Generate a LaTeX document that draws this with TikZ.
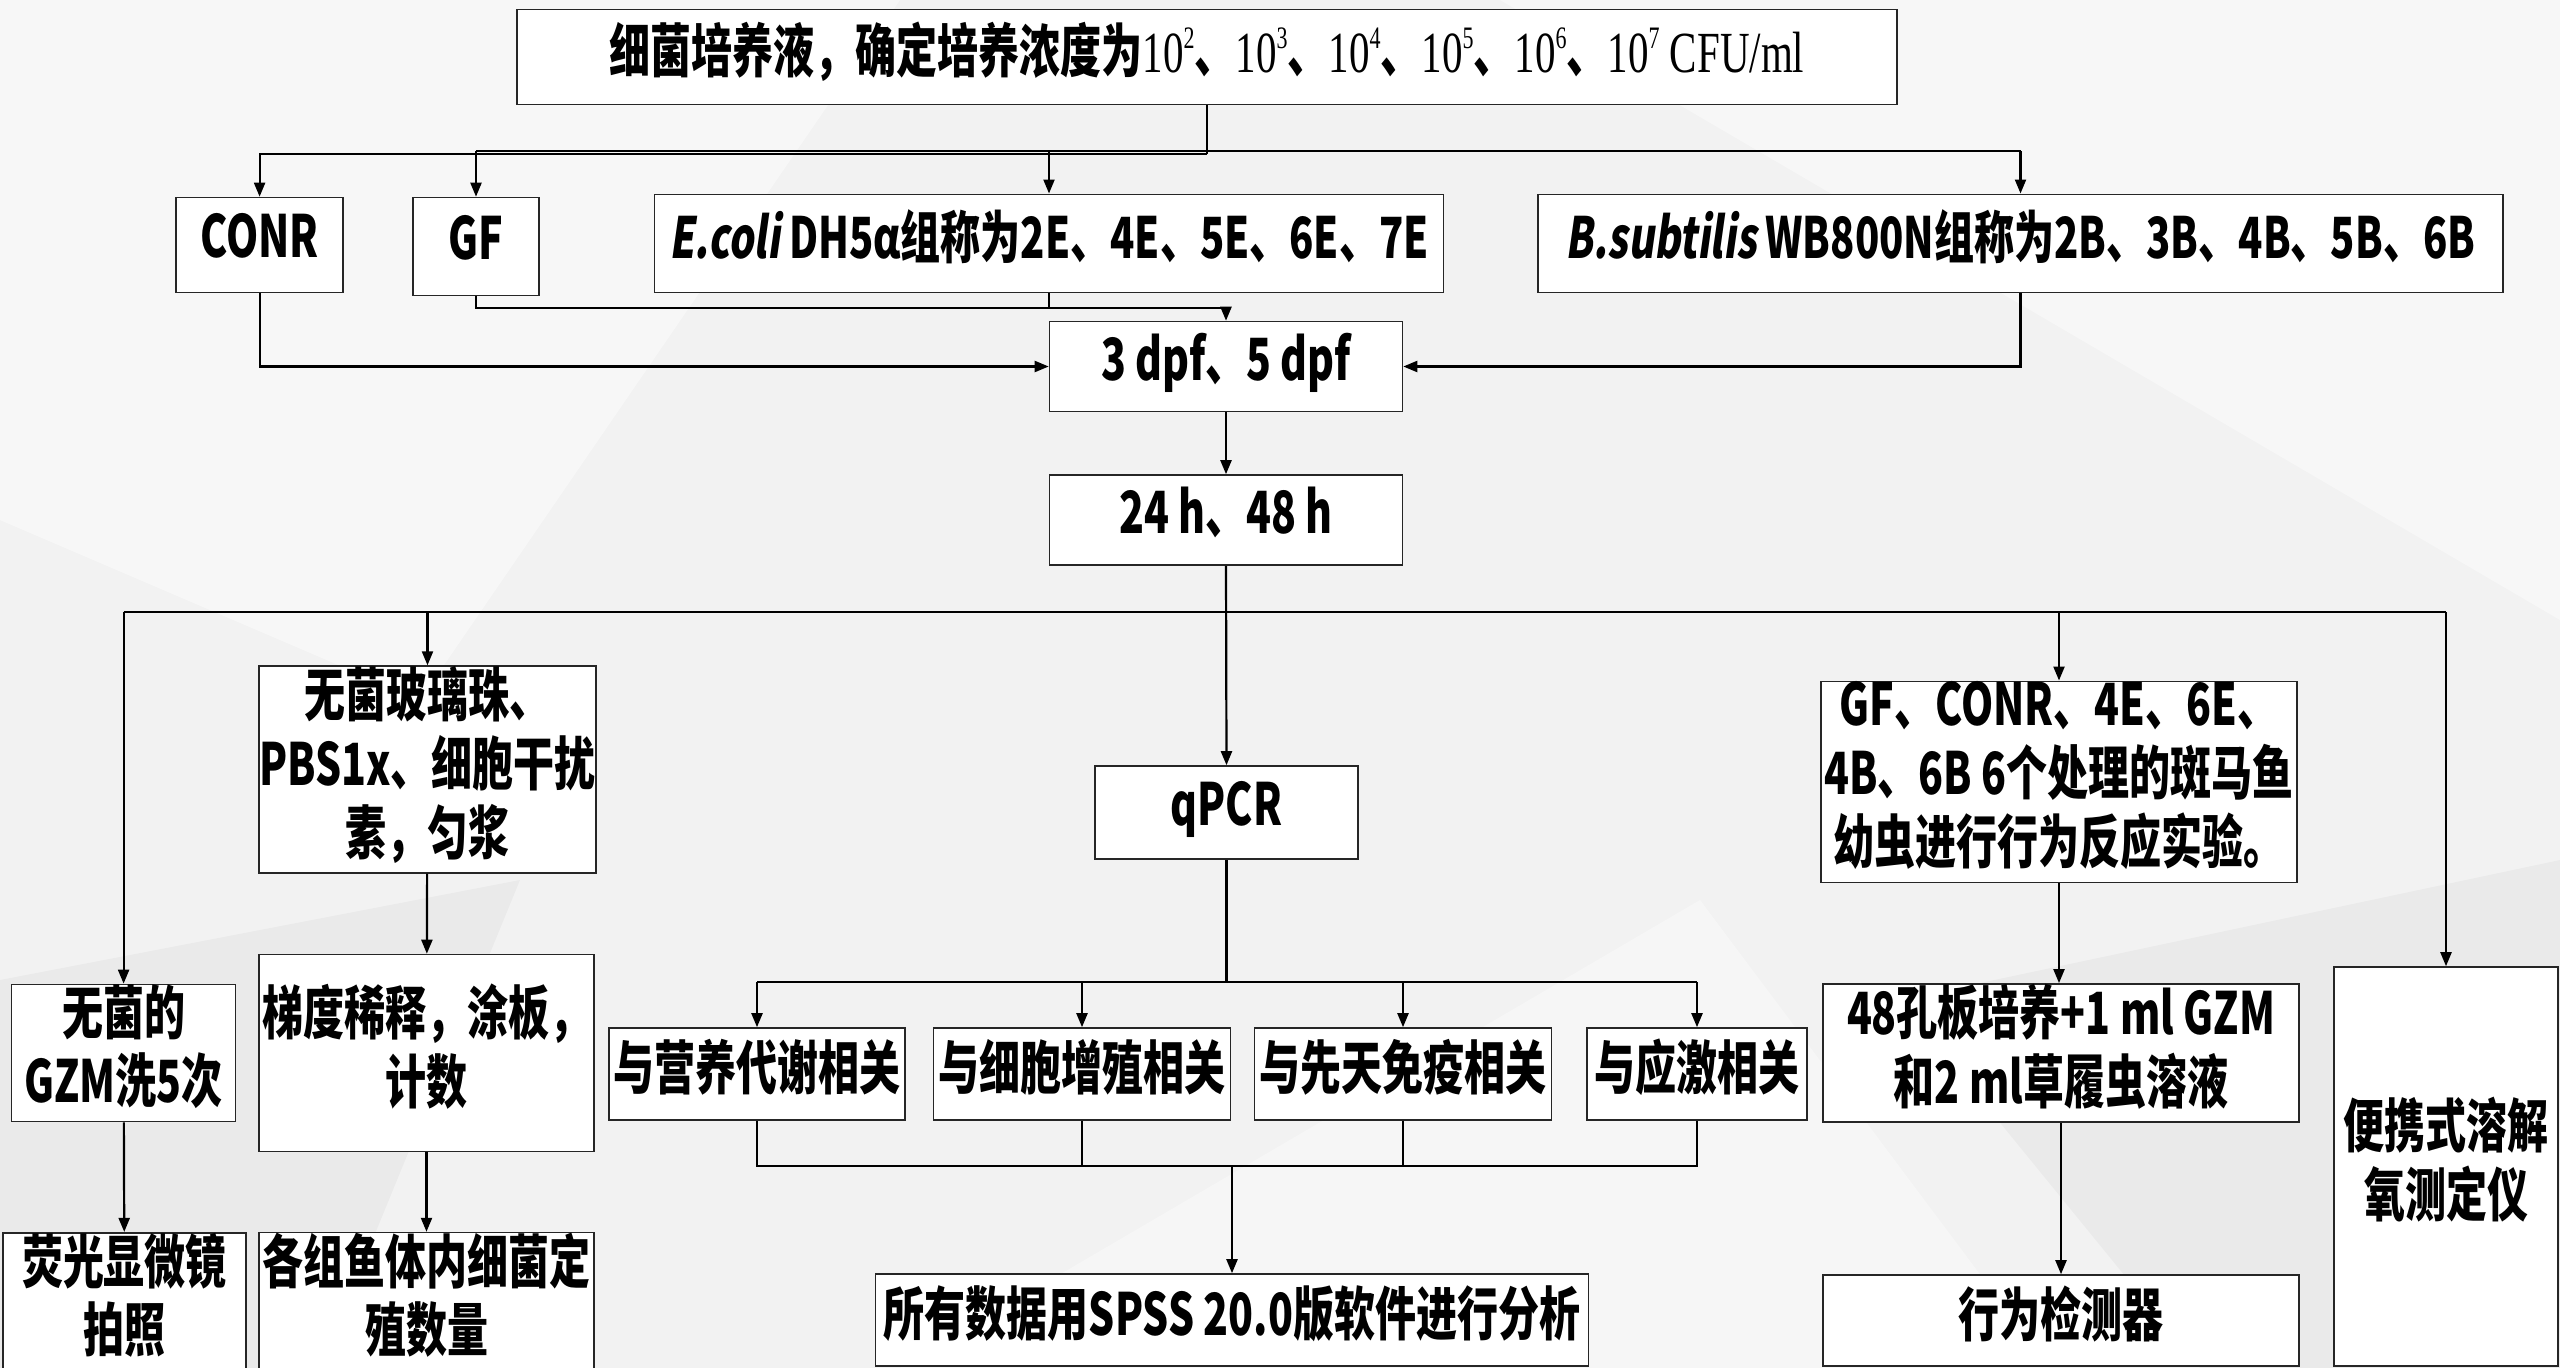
\documentclass[tikz,border=0pt]{standalone}
\usepackage{fontspec}
\usepackage{graphicx}
\usetikzlibrary{arrows.meta}
\setmainfont{Noto Sans CJK SC}
\newfontfamily\cjkit{Noto Sans CJK SC}[FakeSlant=0.2]
\newfontfamily\tms{Liberation Serif}
\newcommand{\boxtxt}[1]{\scalebox{1}[1.42]{\begin{tabular}{@{}c@{}}#1\end{tabular}}}
\newcommand{\tpow}[1]{{\tms\mdseries 10\raisebox{0.42em}{\fontsize{22}{22}\selectfont #1}}}
\definecolor{bgc}{RGB}{242,242,242}
\begin{document}
\begin{tikzpicture}[x=1pt,y=-1pt,
  bx/.style n args={2}{draw=black!85, line width=1.6pt, fill=white, inner sep=0pt,
    minimum width=#1pt, minimum height=#2pt,
    font=\bfseries\fontsize{41}{44}\selectfont},
  ln/.style={line width=2.2pt, black},
  arr/.style={ln, -{Triangle[length=14pt,width=11pt]}}]
\clip (0,0) rectangle (2560,1368);
\fill[bgc] (0,0) rectangle (2560,1368);
\fill[white, opacity=0.45] (0,0) -- (900,0) -- (420,700) -- (0,520) -- cycle;
\fill[white, opacity=0.4] (1500,0) -- (2560,0) -- (2560,620) -- cycle;
\fill[black, opacity=0.03] (0,980) -- (520,880) -- (320,1368) -- (0,1368) -- cycle;
\fill[black, opacity=0.03] (1900,1000) -- (2560,860) -- (2560,1368) -- (2200,1368) -- cycle;
\fill[white, opacity=0.35] (900,1368) -- (1700,900) -- (2050,1368) -- cycle;

% nodes
\node[bx={1380}{95}] (top) at (1207,57) {\boxtxt{细菌培养液，确定培养浓度为\tpow{2}、\tpow{3}、\tpow{4}、\tpow{5}、\tpow{6}、\tpow{7}{\tms\mdseries\ CFU/ml}}};
\node[bx={167}{95}] (conr) at (259.6,245) {\boxtxt{CONR}};
\node[bx={126}{98}] (gf) at (476,246.5) {\boxtxt{GF}};
\node[bx={789}{98}, font=\bfseries\fontsize{40}{44}\selectfont] (ecoli) at (1049,243.3) {\boxtxt{{\cjkit E.coli} DH5α组称为2E、4E、5E、6E、7E}};
\node[bx={965}{98}, font=\bfseries\fontsize{40}{44}\selectfont] (bsub) at (2020.5,243.3) {\boxtxt{{\cjkit B.subtilis} WB800N组称为2B、3B、4B、5B、6B}};
\node[bx={353}{90}] (d3) at (1226,366.5) {\boxtxt{3 dpf、5 dpf}};
\node[bx={353}{90}] (h24) at (1226,520) {\boxtxt{24 h、48 h}};
\node[bx={335}{197}] (beads) at (427.5,769.5) {\boxtxt{无菌玻璃珠、\\PBS1x、细胞干扰\\素，匀浆}};
\node[bx={335}{197}] (dil) at (426.5,1053) {\boxtxt{梯度稀释，涂板，\\计数}};
\node[bx={335}{129}] (count) at (426.5,1301.5) {\boxtxt{各组鱼体内细菌定\\殖数量}};
\node[bx={224}{136}] (gzm) at (123.6,1053) {\boxtxt{无菌的\\GZM洗5次}};
\node[bx={243}{129}] (fluo) at (124.5,1301.5) {\boxtxt{荧光显微镜\\拍照}};
\node[bx={263}{93}] (qpcr) at (1226.5,812.5) {\boxtxt{qPCR}};
\node[bx={296}{92}] (r1) at (757,1074) {\boxtxt{与营养代谢相关}};
\node[bx={297}{92}] (r2) at (1082,1074) {\boxtxt{与细胞增殖相关}};
\node[bx={297}{92}] (r3) at (1403,1074) {\boxtxt{与先天免疫相关}};
\node[bx={220}{92}] (r4) at (1697,1074) {\boxtxt{与应激相关}};
\node[bx={713}{92}] (spss) at (1232,1320) {\boxtxt{所有数据用SPSS 20.0版软件进行分析}};
\node[bx={476}{196}] (beh) at (2059,782) {\boxtxt{GF、CONR、4E、6E、\\4B、6B 6个处理的斑马鱼\\幼虫进行行为反应实验。}};
\node[bx={476}{135}] (plate) at (2061,1053) {\boxtxt{48孔板培养+1 ml GZM\\和2 ml草履虫溶液}};
\node[bx={476}{91}] (det) at (2061,1320.5) {\boxtxt{行为检测器}};
\node[bx={224}{399}] (oxy) at (2446,1166.5) {\boxtxt{便携式溶解\\氧测定仪}};

% top connectors
\draw[ln] (top.south) -- (top.south |- 0,154);
\draw[arr] (top.south |- 0,154) -| (conr.north);
\draw[ln] (gf.north |- 0,151) -- (bsub.north |- 0,151);
\draw[arr] (gf.north |- 0,151) -- (gf.north);
\draw[arr] (ecoli.north |- 0,151) -- (ecoli.north);
\draw[arr] (bsub.north |- 0,151) -- (bsub.north);

% into 3 dpf
\draw[arr] (gf.south) -- (gf.south |- 0,308) -- (d3.north |- 0,308) -- (d3.north);
\draw[ln] (ecoli.south) -- (ecoli.south |- 0,308);
\draw[arr] (conr.south) |- (d3.west);
\draw[arr] (bsub.south) |- (d3.east);
\draw[arr] (d3) -- (h24);

% 24 h bus
\draw[arr] (h24.south) -- (qpcr.north);
\draw[ln] (gzm.north |- 0,612) -- (oxy.north |- 0,612);
\draw[arr] (gzm.north |- 0,612) -- (gzm.north);
\draw[arr] (beads.north |- 0,612) -- (beads.north);
\draw[arr] (beh.north |- 0,612) -- (beh.north);
\draw[arr] (oxy.north |- 0,612) -- (oxy.north);

% left columns
\draw[arr] (gzm) -- (fluo);
\draw[arr] (beads) -- (dil);
\draw[arr] (dil) -- (count);

% qPCR branches
\draw[ln] (qpcr.south) -- (qpcr.south |- 0,982);
\draw[ln] (r1.north |- 0,982) -- (r4.north |- 0,982);
\draw[arr] (r1.north |- 0,982) -- (r1.north);
\draw[arr] (r2.north |- 0,982) -- (r2.north);
\draw[arr] (r3.north |- 0,982) -- (r3.north);
\draw[arr] (r4.north |- 0,982) -- (r4.north);
\draw[ln] (r1.south) -- (r1.south |- 0,1166) -- (r4.south |- 0,1166) -- (r4.south);
\draw[ln] (r2.south) -- (r2.south |- 0,1166);
\draw[ln] (r3.south) -- (r3.south |- 0,1166);
\draw[arr] (spss.north |- 0,1166) -- (spss.north);

% right column
\draw[arr] (beh.south) -- (beh.south |- plate.north);
\draw[arr] (plate) -- (det);
\end{tikzpicture}
\end{document}
